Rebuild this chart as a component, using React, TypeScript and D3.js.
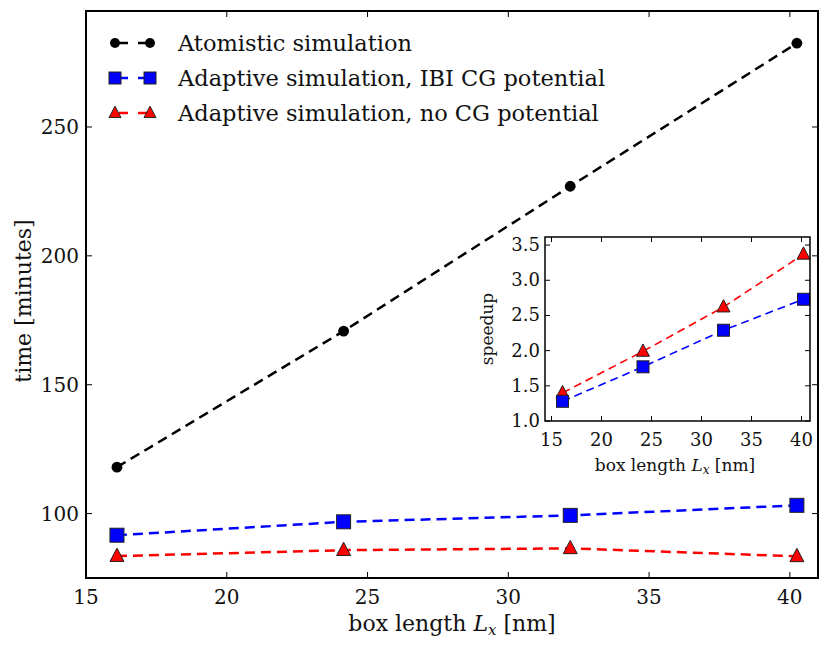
import React from "react";
import * as d3 from "d3";

const boxLength = [16.1, 24.15, 32.2, 40.25];
const atomistic = [118, 170.8, 227, 282.5];
const adaptiveIBI = [91.6, 96.8, 99.3, 103.2];
const adaptiveNoCG = [83.5, 85.8, 86.5, 83.4];
const xTicks = [15, 20, 25, 30, 35, 40];
const yTicks = [100, 150, 200, 250];

const insetX = [16.1, 24.15, 32.2, 40.2];
const speedupIBI = [1.28, 1.77, 2.29, 2.73];
const speedupNoCG = [1.4, 1.99, 2.62, 3.37];
const insetXTicks = [15, 20, 25, 30, 35, 40];
const insetYTicks = [1.0, 1.5, 2.0, 2.5, 3.0, 3.5];

const FONT = "DejaVu Serif";

function Marker({ kind, x, y, s }: { kind: string; x: number; y: number; s: number }) {
  if (kind === "circle") return <circle cx={x} cy={y} r={s * 0.45} fill="black" />;
  if (kind === "square")
    return <rect x={x - s / 2} y={y - s / 2} width={s} height={s} fill="#0000ff" stroke="#222" strokeWidth={1} />;
  const h = s * 0.95;
  return (
    <path
      d={`M${x},${y - h * 0.6} L${x + s / 2},${y + h * 0.4} L${x - s / 2},${y + h * 0.4} Z`}
      fill="#ff0000"
      stroke="#222"
      strokeWidth={1}
    />
  );
}

export default function App() {
  const W = 830, H = 651;
  const L = 86, R = 818, T = 11, B = 578;
  const x = d3.scaleLinear().domain([15, 41]).range([L, R]);
  const y = d3.scaleLinear().domain([75, 295]).range([B, T]);

  const series = [
    { data: atomistic, color: "black", kind: "circle", label: "Atomistic simulation" },
    { data: adaptiveIBI, color: "#0000ff", kind: "square", label: "Adaptive simulation, IBI CG potential" },
    { data: adaptiveNoCG, color: "#ff0000", kind: "triangle", label: "Adaptive simulation, no CG potential" },
  ];
  const line = (data: number[]) =>
    d3.line<number>().x((_, i) => x(boxLength[i])).y((d) => y(d))(data) || "";

  // inset
  const iL = 545, iR = 810, iT = 237, iB = 421;
  const ix = d3.scaleLinear().domain([14.35, 40.85]).range([iL, iR]);
  const iy = d3.scaleLinear().domain([1.0, 3.615]).range([iB, iT]);
  const iline = (data: number[]) =>
    d3.line<number>().x((_, i) => ix(insetX[i])).y((d) => iy(d))(data) || "";

  const tk = 6;
  const itk = 5;

  return (
    <svg width={W} height={H} style={{ position: "absolute", left: 0, top: 0, background: "white" }}>
      <rect x={0} y={0} width={W} height={H} fill="white" />
      {series.map((s, si) => (
        <path key={si} d={line(s.data)} fill="none" stroke={s.color} strokeWidth={2.5} strokeDasharray="10,6" />
      ))}
      {series.map((s, si) =>
        s.data.map((v, i) => <Marker key={`${si}-${i}`} kind={s.kind} x={x(boxLength[i])} y={y(v)} s={s.kind === "circle" ? 12 : 14} />)
      )}
      {xTicks.map((t) => (
        <g key={`xt${t}`}>
          <line x1={x(t)} x2={x(t)} y1={B} y2={B - tk} stroke="black" strokeWidth={1} />
          <line x1={x(t)} x2={x(t)} y1={T} y2={T + tk} stroke="black" strokeWidth={1} />
          <text x={x(t)} y={B + 26} textAnchor="middle" fontFamily={FONT} fontSize={20} fill="#111">{t}</text>
        </g>
      ))}
      {yTicks.map((t) => (
        <g key={`yt${t}`}>
          <line x1={L} x2={L + tk} y1={y(t)} y2={y(t)} stroke="black" strokeWidth={1} />
          <line x1={R} x2={R - tk} y1={y(t)} y2={y(t)} stroke="black" strokeWidth={1} />
          <text x={L - 7} y={y(t) + 7} textAnchor="end" fontFamily={FONT} fontSize={20} fill="#111">{t}</text>
        </g>
      ))}
      <rect x={L} y={T} width={R - L} height={B - T} fill="none" stroke="black" strokeWidth={2} />
      <text x={452} y={631} textAnchor="middle" fontFamily={FONT} fontSize={22} fill="#111">
        box length <tspan fontStyle="italic">L</tspan>
        <tspan fontStyle="italic" fontSize={15} dy={4}>x</tspan>
        <tspan dy={-4}> [nm]</tspan>
      </text>
      <text transform={`translate(31,301) rotate(-90)`} textAnchor="middle" fontFamily={FONT} fontSize={22} fill="#111">
        time [minutes]
      </text>
      {series.map((s, i) => {
        const ly = 43 + i * 35;
        return (
          <g key={`lg${i}`}>
            <line x1={115} x2={150} y1={ly} y2={ly} stroke={s.color} strokeWidth={2.5} strokeDasharray="9,10" strokeDashoffset={-4} />
            <Marker kind={s.kind} x={115} y={ly} s={s.kind === "circle" ? 11 : 12} />
            <Marker kind={s.kind} x={150} y={ly} s={s.kind === "circle" ? 11 : 12} />
            <text x={178} y={ly + 8} fontFamily={FONT} fontSize={22.5} fill="#111">{s.label}</text>
          </g>
        );
      })}
      <rect x={iL} y={iT} width={iR - iL} height={iB - iT} fill="white" />
      <path d={iline(speedupNoCG)} fill="none" stroke="#ff0000" strokeWidth={1.6} strokeDasharray="8,5" />
      <path d={iline(speedupIBI)} fill="none" stroke="#0000ff" strokeWidth={1.6} strokeDasharray="8,5" />
      {speedupNoCG.map((v, i) => <Marker key={`in${i}`} kind="triangle" x={ix(insetX[i])} y={iy(v)} s={13} />)}
      {speedupIBI.map((v, i) => <Marker key={`ib${i}`} kind="square" x={ix(insetX[i])} y={iy(v)} s={12} />)}
      {insetXTicks.map((t) => (
        <g key={`ixt${t}`}>
          <line x1={ix(t)} x2={ix(t)} y1={iB} y2={iB - itk} stroke="black" strokeWidth={1} />
          <line x1={ix(t)} x2={ix(t)} y1={iT} y2={iT + itk} stroke="black" strokeWidth={1} />
          <text x={ix(t)} y={iB + 25} textAnchor="middle" fontFamily={FONT} fontSize={18} fill="#111">{t}</text>
        </g>
      ))}
      {insetYTicks.map((t) => (
        <g key={`iyt${t}`}>
          <line x1={iL} x2={iL + itk} y1={iy(t)} y2={iy(t)} stroke="black" strokeWidth={1} />
          <line x1={iR} x2={iR - itk} y1={iy(t)} y2={iy(t)} stroke="black" strokeWidth={1} />
          <text x={iL - 5} y={iy(t) + 6} textAnchor="end" fontFamily={FONT} fontSize={18} fill="#111">{t.toFixed(1)}</text>
        </g>
      ))}
      <rect x={iL} y={iT} width={iR - iL} height={iB - iT} fill="none" stroke="black" strokeWidth={1.5} />
      <text x={675} y={471} textAnchor="middle" fontFamily={FONT} fontSize={17} fill="#111">
        box length <tspan fontStyle="italic">L</tspan>
        <tspan fontStyle="italic" fontSize={12} dy={3}>x</tspan>
        <tspan dy={-3}> [nm]</tspan>
      </text>
      <text transform={`translate(493,${(iT + iB) / 2}) rotate(-90)`} textAnchor="middle" fontFamily={FONT} fontSize={17} fill="#111">
        speedup
      </text>
    </svg>
  );
}
